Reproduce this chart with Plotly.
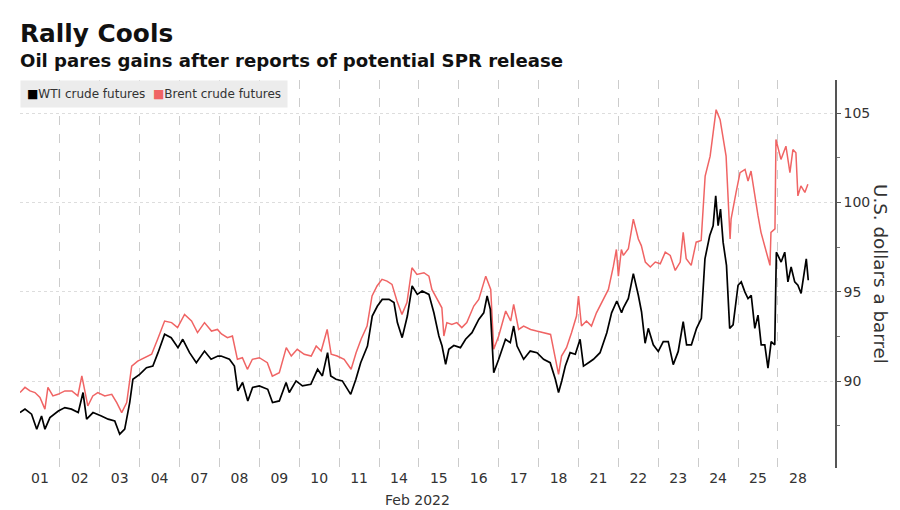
import plotly.graph_objects as go

# Trading days shown on the axis (Feb 2022)
days = ["01", "02", "03", "04", "07", "08", "09", "10", "11", "14",
        "15", "16", "17", "18", "21", "22", "23", "24", "25", "28"]

# Position in trading days elapsed since the Feb 1 session start, and price (USD/bbl)
wti_t = [0.0, 0.125, 0.29, 0.42, 0.54, 0.625, 0.75, 0.96, 1.125, 1.29, 1.46, 1.58, 1.67, 1.83,
         2.04, 2.21, 2.375, 2.5, 2.625, 2.75, 2.83, 3.0, 3.17, 3.33, 3.46, 3.625, 3.79, 3.96,
         4.08, 4.25, 4.42, 4.625, 4.79, 4.96, 5.04, 5.25, 5.375, 5.46, 5.58, 5.71, 5.83, 6.0,
         6.21, 6.33, 6.5, 6.67, 6.75, 6.92, 7.08, 7.29, 7.46, 7.58, 7.71, 7.79, 7.92, 8.08,
         8.29, 8.42, 8.54, 8.71, 8.83, 8.96, 9.08, 9.25, 9.375, 9.46, 9.58, 9.71, 9.83, 9.96,
         10.08, 10.25, 10.375, 10.5, 10.58, 10.67, 10.75, 10.875, 11.04, 11.17, 11.33, 11.5,
         11.625, 11.71, 11.79, 11.875, 12.0, 12.17, 12.29, 12.375, 12.46, 12.625, 12.79, 12.96,
         13.125, 13.29, 13.42, 13.5, 13.58, 13.67, 13.79, 13.92, 14.04, 14.125, 14.25, 14.375,
         14.54, 14.71, 14.83, 14.96, 15.08, 15.125, 15.25, 15.375, 15.5, 15.58, 15.67, 15.75,
         15.875, 16.0, 16.125, 16.25, 16.375, 16.5, 16.625, 16.71, 16.83, 16.96, 17.08, 17.17,
         17.29, 17.375, 17.44, 17.5, 17.56, 17.625, 17.71, 17.79, 17.875, 18.0, 18.08, 18.17,
         18.25, 18.33, 18.42, 18.5, 18.58, 18.67, 18.75, 18.83, 18.92, 18.96, 19.08, 19.17,
         19.25, 19.33, 19.42, 19.5, 19.58, 19.71, 19.76]
wti_v = [88.25, 88.44, 88.16, 87.32, 88.06, 87.32, 87.97, 88.34, 88.53, 88.44, 88.25, 89.37, 87.88, 88.25,
         88.06, 87.88, 87.78, 87.04, 87.32, 88.81, 90.11, 90.39, 90.76, 90.85, 91.60, 92.63, 92.44, 91.88,
         92.35, 91.60, 91.04, 91.69, 91.23, 91.41, 91.41, 91.23, 90.85, 89.46, 89.93, 88.90, 89.65, 89.74,
         89.55, 88.81, 88.90, 89.93, 89.37, 90.02, 89.74, 89.83, 90.67, 90.30, 91.60, 90.30, 90.11, 90.02,
         89.27, 90.11, 91.04, 91.97, 93.65, 94.21, 94.58, 94.58, 94.40, 93.28, 92.44, 93.65, 95.33, 94.86,
         95.05, 94.86, 93.83, 92.53, 91.97, 90.95, 91.79, 92.00, 91.88, 92.35, 92.72, 93.46,
         93.83, 94.77, 94.02, 90.48, 91.23, 92.35, 92.16, 93.09, 91.97, 91.23, 91.69, 91.60,
         91.23, 91.04, 90.11, 89.37, 90.02, 90.85, 91.60, 91.51, 92.35, 90.85, 91.04, 91.23,
         91.60, 92.72, 93.83, 94.49, 93.83, 94.10, 94.63, 96.02, 94.81, 93.89, 92.13, 92.96,
         92.04, 91.67, 92.22, 92.22, 90.93, 91.67, 93.33, 92.04, 92.04, 92.96, 93.52, 96.85,
         98.15, 98.70, 100.37, 98.70, 99.63, 97.78, 96.48, 92.96, 93.15, 95.37, 95.56, 95.00,
         94.63, 94.81, 92.96, 93.70, 92.04, 92.04, 90.74, 92.22, 92.04, 97.22, 96.67, 97.22,
         95.56, 96.39, 95.56, 95.37, 94.91, 96.85, 95.65]

brent_t = [0.0, 0.125, 0.25, 0.375, 0.5, 0.625, 0.7, 0.825, 0.95, 1.125, 1.3, 1.45, 1.55, 1.625,
           1.7, 1.825, 1.95, 2.125, 2.3, 2.425, 2.55, 2.675, 2.8, 2.95, 3.125, 3.3, 3.45, 3.625,
           3.8, 3.95, 4.125, 4.3, 4.45, 4.625, 4.8, 4.95, 5.05, 5.2, 5.325, 5.45, 5.575, 5.7,
           5.825, 6.0, 6.2, 6.325, 6.5, 6.675, 6.8, 6.95, 7.125, 7.3, 7.425, 7.55, 7.7, 7.8,
           7.95, 8.125, 8.3, 8.425, 8.55, 8.7, 8.825, 8.95, 9.075, 9.2, 9.325, 9.45, 9.575, 9.7,
           9.825, 9.95, 10.125, 10.25, 10.325, 10.45, 10.575, 10.625, 10.7, 10.825, 10.95, 11.075,
           11.2, 11.375, 11.5, 11.675, 11.8, 11.875, 12.0, 12.175, 12.3, 12.375, 12.5, 12.625,
           12.8, 12.95, 13.125, 13.3, 13.425, 13.5, 13.575, 13.7, 13.825, 13.95, 14.0, 14.075,
           14.2, 14.325, 14.45, 14.625, 14.75, 14.875, 14.95, 15.0, 15.075, 15.125, 15.25, 15.375,
           15.5, 15.575, 15.675, 15.8, 15.925, 16.05, 16.175, 16.3, 16.425, 16.55, 16.625, 16.7,
           16.825, 16.95, 17.075, 17.175, 17.3, 17.375, 17.45, 17.55, 17.625, 17.7, 17.8, 17.825,
           17.95, 18.05, 18.175, 18.25, 18.325, 18.425, 18.5, 18.575, 18.7, 18.8, 18.825, 18.925,
           18.95, 19.075, 19.2, 19.3, 19.375, 19.45, 19.5, 19.575, 19.675, 19.75]
brent_v = [89.37, 89.66, 89.46, 89.37, 89.09, 88.44, 89.66, 89.18, 89.27, 89.46, 89.46, 89.18, 90.30, 89.37,
           88.62, 89.18, 89.37, 89.18, 89.27, 88.81, 88.25, 88.81, 90.85, 91.13, 91.32, 91.51, 92.35, 93.37,
           93.28, 93.00, 93.74, 93.37, 92.72, 93.28, 92.81, 92.90, 92.65, 92.44, 92.53, 91.23, 91.32, 90.67,
           91.23, 91.32, 91.04, 90.29, 90.48, 91.88, 91.41, 91.79, 91.51, 91.41, 91.97, 91.69, 92.90, 91.51,
           91.41, 91.23, 90.67, 91.60, 92.35, 93.09, 94.77, 95.33, 95.70, 95.60, 95.42, 94.49, 93.74, 94.40,
           96.35, 95.98, 96.07, 95.88, 95.14, 94.58, 94.11, 92.53, 93.28, 93.18, 93.28, 93.00,
           93.28, 94.21, 94.58, 95.88, 95.14, 91.79, 92.53, 93.93, 93.37, 94.30, 92.90, 93.09,
           92.90, 92.81, 92.72, 92.62, 91.23, 90.39, 91.41, 91.88, 92.72, 93.65, 94.77, 93.09,
           93.37, 93.09, 93.83, 94.58, 95.14, 96.44, 97.37, 95.88, 97.37, 97.04, 97.41, 99.07,
           97.96, 97.59, 96.67, 96.39, 96.67, 96.57, 97.22, 97.04, 96.20, 96.67, 98.33, 96.85,
           96.48, 97.78, 97.87, 101.48, 102.59, 103.89, 105.19, 104.63, 103.52, 102.59, 97.96, 99.07,
           100.56, 101.67, 101.85, 101.20, 101.76, 100.19, 99.26, 98.33, 97.22, 96.48, 98.33, 98.52,
           103.52, 102.41, 103.15, 101.67, 102.96, 102.78, 100.37, 100.93, 100.56, 101.02]

y_ticks = [90, 95, 100, 105]

WTI_COLOR = "#000000"
BRENT_COLOR = "#f06464"
FONT = "DejaVu Sans"

fig = go.Figure()
fig.add_trace(go.Scatter(x=brent_t, y=brent_v, mode="lines", name="Brent crude futures",
                         line=dict(color=BRENT_COLOR, width=1.5)))
fig.add_trace(go.Scatter(x=wti_t, y=wti_v, mode="lines", name="WTI crude futures",
                         line=dict(color=WTI_COLOR, width=1.7)))

legend_text = (f"<span style='color:{WTI_COLOR};font-size:12px'>■</span>WTI crude futures&nbsp;&nbsp;"
               f"<span style='color:{BRENT_COLOR};font-size:12px'>■</span>Brent crude futures")

# The page body adds an 8px offset, so the figure is 8px smaller and margins compensate.
fig.update_layout(
    width=892, height=502,
    margin=dict(l=12, r=65, t=72, b=42),
    paper_bgcolor="white", plot_bgcolor="white",
    font=dict(family=FONT, color="#333333"),
    showlegend=False,
    xaxis=dict(
        range=[0, 20.43],
        tickmode="array",
        tickvals=[i + 0.5 for i in range(len(days))],
        ticktext=days,
        showgrid=False, zeroline=False, showline=False,
        ticks="", tickfont=dict(size=14, color="#333333"),
        minor=dict(tickmode="array", tickvals=list(range(len(days))),
                   showgrid=True, gridcolor="#cccccc", griddash="dash", gridwidth=1, ticks=""),
    ),
    yaxis=dict(
        side="right",
        range=[85.15, 106.85],
        tickmode="array", tickvals=y_ticks,
        showgrid=True, gridcolor="#dddddd", griddash="dot", gridwidth=1,
        zeroline=False,
        showline=True, linecolor="#555555", linewidth=1.5,
        ticks="outside", ticklen=4, tickcolor="#555555",
        tickfont=dict(size=14, color="#333333"),
        minor=dict(dtick=2.5, tick0=0, ticks="outside", ticklen=3, tickcolor="#777777", showgrid=False),
    ),
    annotations=[
        dict(text="<b>Rally Cools</b>", xref="paper", yref="paper", x=0, y=1 + (80 - 34) / 388,
             xanchor="left", yanchor="middle", showarrow=False, xshift=-2,
             font=dict(size=24.8, color="#111111", family=FONT)),
        dict(text="<b>Oil pares gains after reports of potential SPR release</b>", xref="paper", yref="paper",
             x=0, y=1 + (80 - 61) / 388, xanchor="left", yanchor="middle", showarrow=False, xshift=-2,
             font=dict(size=18.1, color="#111111", family=FONT)),
        dict(text=legend_text, xref="paper", yref="paper", x=0, y=1, xanchor="left", yanchor="top",
             showarrow=False, bgcolor="#ececec", borderpad=6,
             font=dict(size=12, color="#333333", family=FONT)),
        dict(text="Feb 2022", xref="paper", yref="paper", x=(417 - 20) / 815, y=0,
             yshift=-32, xanchor="center", yanchor="middle", showarrow=False,
             font=dict(size=14, color="#333333", family=FONT)),
        dict(text="U.S. dollars a barrel", xref="paper", yref="paper", x=1, y=0.5,
             xshift=46, xanchor="center", yanchor="middle", textangle=90, showarrow=False,
             font=dict(size=18.3, color="#333333", family=FONT)),
    ],
)

fig.write_html("out.html")
